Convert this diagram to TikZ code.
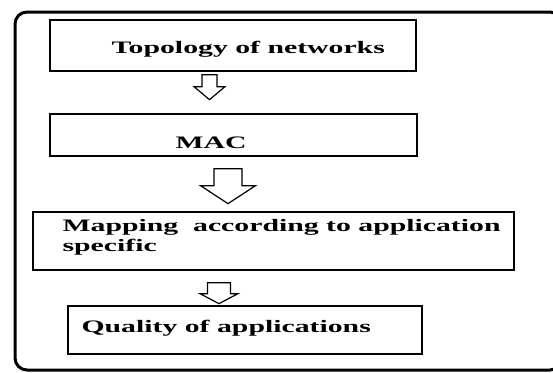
\documentclass[tikz,border=0pt]{standalone}
\usepackage{fontspec}
\newfontfamily\flowfont[FakeStretch=1.7]{Liberation Serif}
\usetikzlibrary{positioning}

\tikzset{
  stage/.style={draw, line width=1.3pt, inner sep=0pt},
  stagetext/.style={font=\flowfont\bfseries\fontsize{17.5}{20}\selectfont, inner sep=0pt, align=left},
  hollowarrow/.style={draw, line width=1.2pt, line join=miter, fill=white},
  pics/downarrow/.style n args={4}{code={
    \draw[hollowarrow] (-#1,0) -- (-#1,#3) -- (-#2,#3) -- (0,#4) -- (#2,#3) -- (#1,#3) -- (#1,0) -- cycle;
  }}
}

\begin{document}
\begin{tikzpicture}[x=1pt, y=-1pt]

    \useasboundingbox (0,0) rectangle (553,372);

    % --- Outer frame (runs off the right edge) ---
    \begin{scope}
      \clip (0,0) rectangle (553,372);
      \draw[line width=3pt, rounded corners=12pt] (15,12) rectangle (562,370);
    \end{scope}

    % --- Stages ---
    \node[stage, minimum width=366pt, minimum height=51pt] (topology) at (233,45.5) {};
    \node[stage, minimum width=367pt, minimum height=42pt] (mac) at (233.5,135) {};
    \node[stage, minimum width=481pt, minimum height=58pt] (mapping) at (273.5,241) {};
    \node[stage, minimum width=354pt, minimum height=48pt] (quality) at (245,330) {};

    % --- Stage labels ---
    \node[stagetext, anchor=base west] (topologytext) at ([xshift=62pt, yshift=-7.5pt]topology.west) {Topology of networks};
    \node[stagetext, anchor=base west] (mactext) at ([xshift=126pt, yshift=-13pt]mac.west) {MAC};
    \node[stagetext, anchor=north west] (mappingtext) at ([xshift=30pt, yshift=-8pt]mapping.north west) {Mapping~ according to application\\specific};
    \node[stagetext, anchor=base west] (qualitytext) at ([xshift=14pt, yshift=-2pt]quality.west) {Quality of applications};

    % --- Hollow arrows between stages ---
    \pic at ([xshift=-23.5pt, yshift=-3pt]topology.south) {downarrow={7.5}{15.5}{12}{25}};
    \pic at ([xshift=-5.5pt, yshift=-12pt]mac.south) {downarrow={14}{27.5}{17}{35}};
    \pic at ([xshift=-54.5pt, yshift=-12pt]mapping.south) {downarrow={11.5}{19}{11}{21}};

\end{tikzpicture}
\end{document}
